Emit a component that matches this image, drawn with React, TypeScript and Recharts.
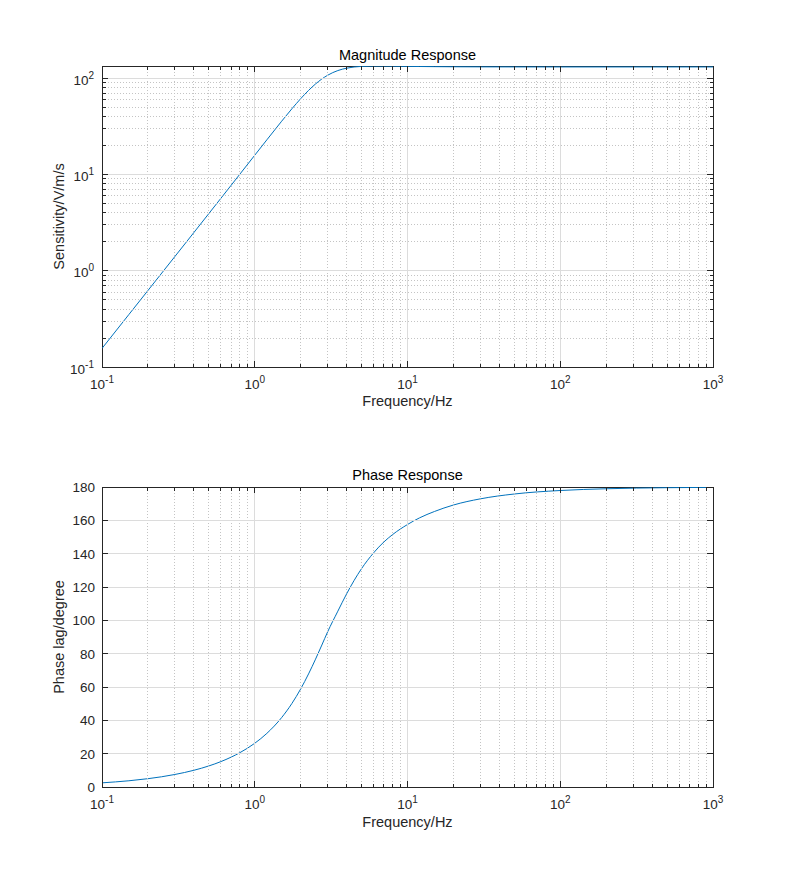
import React from "react";
import { LineChart, Line, XAxis, YAxis, ReferenceArea } from "recharts";

// frequency points (Hz)
const FREQ = [
  0.1, 0.15, 0.2, 0.3, 0.4, 0.5, 0.6, 0.7, 0.8, 1, 1.2, 1.5, 1.75, 2, 2.25, 2.5, 2.75, 3, 3.5, 4, 5, 6, 7, 8, 10, 12, 15,
  20, 30, 50, 100, 200, 500, 1000,
];
// sensitivity V/m/s
const MAG = [
  0.156, 0.351, 0.624, 1.405, 2.502, 3.917, 5.652, 7.713, 10.1, 15.86, 22.91, 35.75, 48.13, 61.39, 74.71, 87.22, 98.24,
  107.4, 120.18, 127.26, 132.71, 133.82, 133.79, 133.49, 132.84, 132.37, 131.93, 131.54, 131.24, 131.09, 131.02, 131.0,
  131.0, 131.0,
];
// phase lag, degrees
const PHASE = [
  2.49, 3.74, 4.99, 7.51, 10.05, 12.62, 15.24, 17.9, 20.62, 26.25, 32.17, 41.66, 50.09, 58.89, 67.84, 76.7, 85.18, 93.08,
  105.5, 116.0, 131.0, 140.5, 147.0, 151.5, 157.5, 161.5, 165.3, 169.2, 172.9, 175.8, 177.9, 178.95, 179.58, 179.79,
];

const X_MAJOR = [0.1, 1, 10, 100, 1000];
const X_MINOR = [
  0.2, 0.3, 0.4, 0.5, 0.6, 0.7, 0.8, 0.9, 2, 3, 4, 5, 6, 7, 8, 9, 20, 30, 40, 50, 60, 70, 80, 90, 200, 300, 400, 500, 600,
  700, 800, 900,
];
const MAG_MAJOR = [0.1, 1, 10, 100];
const MAG_MINOR = [0.2, 0.3, 0.4, 0.5, 0.6, 0.7, 0.8, 0.9, 2, 3, 4, 5, 6, 7, 8, 9, 20, 30, 40, 50, 60, 70, 80, 90];
const PHASE_TICKS = [0, 20, 40, 60, 80, 100, 120, 140, 160, 180];

const X_DOMAIN = [0.1, 1000];
const MAG_DOMAIN = [0.1, 134];
const PHASE_DOMAIN = [0, 180];

const data = FREQ.map((f, i) => ({ f, mag: MAG[i], phase: PHASE[i] }));

const AXIS = "#262626";
const GRID = "#dcdcdc";
const MINOR = "#c4c4c4";
const LINE = "#0072BD";
const FONT = "'Liberation Sans', Arial, Helvetica, sans-serif";

const W = 788;
const LEFT = 102;
const RIGHT = 713;

type Frame = { top: number; bottom: number };

function Pow10({ x, y, exp, anchor }: { x: number; y: number; exp: number; anchor: string }) {
  return (
    <text x={x} y={y} textAnchor={anchor as any} fontFamily={FONT} fontSize={13.5} fill={AXIS}>
      10
      <tspan dy={-6} fontSize={10}>
        {String(exp)}
      </tspan>
    </text>
  );
}

const makeXTick = (fr: Frame, minorGrid: boolean) => (props: any) => {
  const { x, payload } = props;
  const v = payload.value;
  const major = X_MAJOR.includes(v);
  const len = major ? 6 : 3.5;
  const inside = v > X_DOMAIN[0] && v < X_DOMAIN[1];
  return (
    <g shapeRendering="crispEdges">
      {inside && (major || minorGrid) && (
        <line
          x1={x}
          x2={x}
          y1={fr.top}
          y2={fr.bottom}
          stroke={major ? GRID : MINOR}
          strokeDasharray={major ? undefined : "1 2"}
        />
      )}
      <line x1={x} x2={x} y1={fr.bottom} y2={fr.bottom - len} stroke={AXIS} />
      <line x1={x} x2={x} y1={fr.top} y2={fr.top + len} stroke={AXIS} />
      {major && <Pow10 x={x} y={fr.bottom + 22} exp={Math.round(Math.log10(v))} anchor="middle" />}
    </g>
  );
};

const makeLogYTick = (fr: Frame) => (props: any) => {
  const { y, payload } = props;
  const v = payload.value;
  const major = MAG_MAJOR.includes(v);
  const len = major ? 6 : 3.5;
  const inside = v > MAG_DOMAIN[0] && v < MAG_DOMAIN[1];
  return (
    <g shapeRendering="crispEdges">
      {inside && (
        <line
          x1={LEFT}
          x2={RIGHT}
          y1={y}
          y2={y}
          stroke={major ? GRID : MINOR}
          strokeDasharray={major ? undefined : "1 2"}
        />
      )}
      <line x1={LEFT} x2={LEFT + len} y1={y} y2={y} stroke={AXIS} />
      <line x1={RIGHT} x2={RIGHT - len} y1={y} y2={y} stroke={AXIS} />
      {major && <Pow10 x={LEFT - 8} y={y + 6.5} exp={Math.round(Math.log10(v))} anchor="end" />}
    </g>
  );
};

const LinYTick = (props: any) => {
  const { y, payload } = props;
  const v = payload.value;
  const inside = v > PHASE_DOMAIN[0] && v < PHASE_DOMAIN[1];
  return (
    <g shapeRendering="crispEdges">
      {inside && <line x1={LEFT} x2={RIGHT} y1={y} y2={y} stroke={GRID} />}
      <line x1={LEFT} x2={LEFT + 6} y1={y} y2={y} stroke={AXIS} />
      <line x1={RIGHT} x2={RIGHT - 6} y1={y} y2={y} stroke={AXIS} />
      <text x={LEFT - 7} y={y + 5} textAnchor="end" fontFamily={FONT} fontSize={13.5} fill={AXIS}>
        {v}
      </text>
    </g>
  );
};

const TOP_FRAME = { top: 66, bottom: 367 };
const BOT_FRAME = { top: 45, bottom: 345 };

export default function App() {
  const xTicks = [...X_MAJOR, ...X_MINOR];
  return (
    <div style={{ position: "absolute", left: 0, top: 0, width: W, height: 885, background: "#fff" }}>
      <div style={{ position: "absolute", left: 0, top: 0 }}>
        <LineChart width={W} height={442} data={data} margin={{ top: 66, right: W - RIGHT, bottom: 35, left: LEFT - 60 }}>
          <XAxis
            dataKey="f"
            type="number"
            scale="log"
            domain={X_DOMAIN}
            allowDataOverflow
            ticks={xTicks}
            interval={0}
            height={40}
            axisLine={false}
            tickLine={false}
            tick={makeXTick(TOP_FRAME, true)}
          />
          <YAxis
            type="number"
            scale="log"
            domain={MAG_DOMAIN}
            allowDataOverflow
            ticks={[...MAG_MAJOR, ...MAG_MINOR]}
            interval={0}
            width={60}
            axisLine={false}
            tickLine={false}
            tick={makeLogYTick(TOP_FRAME)}
          />
          <Line type="monotone" dataKey="mag" stroke={LINE} strokeWidth={1} dot={false} isAnimationActive={false} />
          <ReferenceArea
            x1={X_DOMAIN[0]}
            x2={X_DOMAIN[1]}
            y1={MAG_DOMAIN[0]}
            y2={MAG_DOMAIN[1]}
            fill="none"
            stroke={AXIS}
            strokeWidth={1}
            shapeRendering="crispEdges"
          />
        </LineChart>
      </div>
      <div style={{ position: "absolute", left: 0, top: 442 }}>
        <LineChart width={W} height={443} data={data} margin={{ top: 45, right: W - RIGHT, bottom: 58, left: LEFT - 60 }}>
          <XAxis
            dataKey="f"
            type="number"
            scale="log"
            domain={X_DOMAIN}
            allowDataOverflow
            ticks={xTicks}
            interval={0}
            height={40}
            axisLine={false}
            tickLine={false}
            tick={makeXTick(BOT_FRAME, true)}
          />
          <YAxis
            type="number"
            domain={PHASE_DOMAIN}
            allowDataOverflow
            ticks={PHASE_TICKS}
            interval={0}
            width={60}
            axisLine={false}
            tickLine={false}
            tick={LinYTick}
          />
          <Line type="monotone" dataKey="phase" stroke={LINE} strokeWidth={1} dot={false} isAnimationActive={false} />
          <ReferenceArea
            x1={X_DOMAIN[0]}
            x2={X_DOMAIN[1]}
            y1={PHASE_DOMAIN[0]}
            y2={PHASE_DOMAIN[1]}
            fill="none"
            stroke={AXIS}
            strokeWidth={1}
            shapeRendering="crispEdges"
          />
        </LineChart>
      </div>
      <svg
        width={W}
        height={885}
        style={{ position: "absolute", left: 0, top: 0, pointerEvents: "none" }}
        fontFamily={FONT}
      >
        <text x={407.5} y={59.5} textAnchor="middle" fontSize={14.5} fill="#000">
          Magnitude Response
        </text>
        <text x={407.5} y={406} textAnchor="middle" fontSize={14.5} fill={AXIS}>
          Frequency/Hz
        </text>
        <text transform="translate(64,216.5) rotate(-90)" textAnchor="middle" fontSize={14.5} fill={AXIS}>
          Sensitivity/V/m/s
        </text>
        <text x={407.5} y={479.5} textAnchor="middle" fontSize={14.5} fill="#000">
          Phase Response
        </text>
        <text x={407.5} y={826.5} textAnchor="middle" fontSize={14.5} fill={AXIS}>
          Frequency/Hz
        </text>
        <text transform="translate(64,637) rotate(-90)" textAnchor="middle" fontSize={14.5} fill={AXIS}>
          Phase lag/degree
        </text>
      </svg>
    </div>
  );
}
